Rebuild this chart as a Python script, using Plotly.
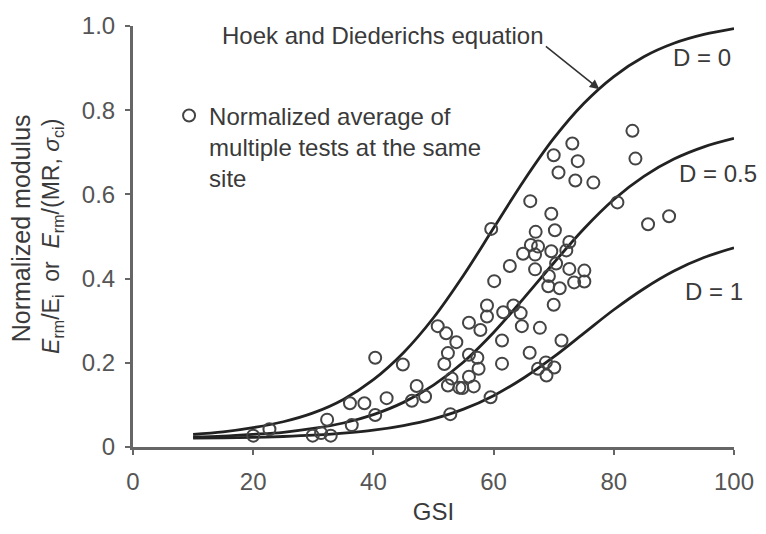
import plotly.graph_objects as go

# ---- data ----
gsi_curve = [10, 15, 20, 25, 30, 35, 40, 45, 50, 55, 60, 65, 70, 75, 80, 85, 90, 95, 100]
d0_curve = [0.030, 0.036, 0.046, 0.060, 0.081, 0.113, 0.160, 0.224, 0.307, 0.408, 0.520,
            0.632, 0.733, 0.816, 0.880, 0.927, 0.959, 0.980, 0.994]
d05_curve = [0.024, 0.026, 0.030, 0.035, 0.044, 0.057, 0.077, 0.106, 0.147, 0.202, 0.272,
             0.353, 0.437, 0.518, 0.588, 0.643, 0.684, 0.713, 0.733]
d1_curve = [0.021, 0.022, 0.023, 0.025, 0.028, 0.033, 0.040, 0.051, 0.067, 0.090, 0.122,
            0.164, 0.214, 0.270, 0.326, 0.376, 0.418, 0.450, 0.473]

gsi_pts = [20.0, 22.7, 29.9, 31.3, 32.9, 32.3, 36.4, 36.1, 38.5, 40.3, 40.3, 42.2, 44.9, 46.4,
           47.2, 48.6, 50.7, 52.1, 53.8, 52.4, 51.8, 53.0, 52.4, 54.3, 52.8, 55.9, 57.8, 58.9,
           58.9, 55.9, 57.3, 57.5, 55.9, 54.8, 56.7, 59.5, 59.6, 60.1, 61.6, 63.3, 64.5, 61.4,
           61.4, 62.7, 64.7, 67.7, 66.0, 67.4, 68.7, 70.1, 68.8, 71.3, 70.0, 64.9, 66.2, 66.9,
           67.0, 67.4, 66.9, 69.6, 70.4, 69.2, 69.1, 71.0, 69.6, 66.1, 70.2, 70.0, 70.8, 73.1,
           74.0, 73.6, 76.6, 72.6, 72.1, 72.6, 75.1, 73.4, 75.1, 80.6, 83.1, 83.6, 85.7, 89.2]
mod_pts = [0.027, 0.042, 0.027, 0.033, 0.027, 0.065, 0.052, 0.104, 0.104, 0.076, 0.212, 0.116,
           0.196, 0.110, 0.145, 0.120, 0.287, 0.270, 0.249, 0.223, 0.197, 0.163, 0.146, 0.141,
           0.078, 0.295, 0.278, 0.336, 0.310, 0.219, 0.212, 0.186, 0.167, 0.140, 0.144, 0.118,
           0.518, 0.394, 0.320, 0.336, 0.318, 0.253, 0.198, 0.430, 0.287, 0.283, 0.224, 0.186,
           0.201, 0.189, 0.170, 0.253, 0.338, 0.459, 0.480, 0.457, 0.511, 0.476, 0.422, 0.465,
           0.436, 0.406, 0.382, 0.377, 0.554, 0.584, 0.515, 0.693, 0.652, 0.721, 0.679, 0.633,
           0.628, 0.487, 0.467, 0.423, 0.419, 0.391, 0.393, 0.581, 0.751, 0.685, 0.529, 0.548]

x_ticks = [0, 20, 40, 60, 80, 100]
y_ticks = [0, 0.2, 0.4, 0.6, 0.8, 1.0]
y_ticktext = ["0", "0.2", "0.4", "0.6", "0.8", "1.0"]
curve_labels = ["D = 0", "D = 0.5", "D = 1"]

FONT = "Liberation Sans, Arial, sans-serif"
TXT = "#3a3a3a"

fig = go.Figure()
for ys in (d0_curve, d05_curve, d1_curve):
    fig.add_trace(go.Scatter(x=gsi_curve, y=ys, mode="lines",
                             line=dict(color="#222222", width=2.8, shape="spline"),
                             showlegend=False, hoverinfo="skip"))

fig.add_trace(go.Scatter(
    x=gsi_pts, y=mod_pts, mode="markers",
    marker=dict(symbol="circle-open", size=12, color="#444444", line=dict(width=2)),
    name="Normalized average of<br>multiple tests at the same<br>site"))

fig.update_layout(
    width=766, height=534, autosize=False,
    margin=dict(l=133, r=24, t=15, b=77),
    paper_bgcolor="white", plot_bgcolor="white",
    font=dict(family=FONT, size=24, color=TXT),
    showlegend=True,
    legend=dict(x=0.06, y=0.84, xanchor="left", yanchor="top", valign="top",
                bgcolor="rgba(0,0,0,0)", font=dict(size=24, color=TXT),
                tracegroupgap=0, itemclick=False),
    xaxis=dict(range=[0, 100], tickvals=x_ticks, ticks="outside", ticklen=5, tickwidth=2,
               tickcolor="#666", showline=True, linecolor="#666", linewidth=3,
               showgrid=False, zeroline=False, tickfont=dict(size=24, color="#555"),
               ticklabelstandoff=6, ticklabeloverflow="allow",
               title=dict(text="GSI", font=dict(size=24, color=TXT), standoff=10)),
    yaxis=dict(range=[0, 1], tickvals=y_ticks, ticktext=y_ticktext, ticks="outside",
               ticklen=5, tickwidth=2, tickcolor="#666", showline=True, linecolor="#666",
               linewidth=3, showgrid=False, zeroline=False, ticklabeloverflow="allow",
               tickfont=dict(size=24, color="#555"), ticklabelstandoff=5),
)

anns = [
    dict(text="Normalized modulus", x=-0.186, y=0.52, xref="paper", yref="paper",
         xanchor="center", yanchor="middle",
         textangle=-90, showarrow=False, font=dict(size=25, color=TXT)),
    dict(text="<i>E</i><sub>rm</sub>/E<sub>i</sub>&nbsp; or &nbsp;<i>E</i><sub>rm</sub>/(MR, <i>σ</i><sub>ci</sub>)",
         x=-0.134, y=0.50, xref="paper", yref="paper", xanchor="center", yanchor="middle",
         textangle=-90, showarrow=False, font=dict(size=23, color=TXT)),
    dict(text="Hoek and Diederichs equation", x=0.144, y=0.978, xref="paper", yref="paper",
         xanchor="left", yanchor="middle", showarrow=False, font=dict(size=24, color=TXT)),
    dict(text="", x=77.6, y=0.85, xref="x", yref="y", showarrow=True, ax=-55, ay=-44,
         arrowhead=2, arrowsize=1.2, arrowwidth=1.6, arrowcolor="#333"),
    dict(text=curve_labels[0], x=94.6, y=0.925, xref="x", yref="y", showarrow=False,
         font=dict(size=24, color=TXT)),
    dict(text=curve_labels[1], x=97.4, y=0.65, xref="x", yref="y", showarrow=False,
         font=dict(size=24, color=TXT)),
    dict(text=curve_labels[2], x=96.6, y=0.37, xref="x", yref="y", showarrow=False,
         font=dict(size=24, color=TXT)),
]
fig.update_layout(annotations=anns)

fig.write_html("out.html")
